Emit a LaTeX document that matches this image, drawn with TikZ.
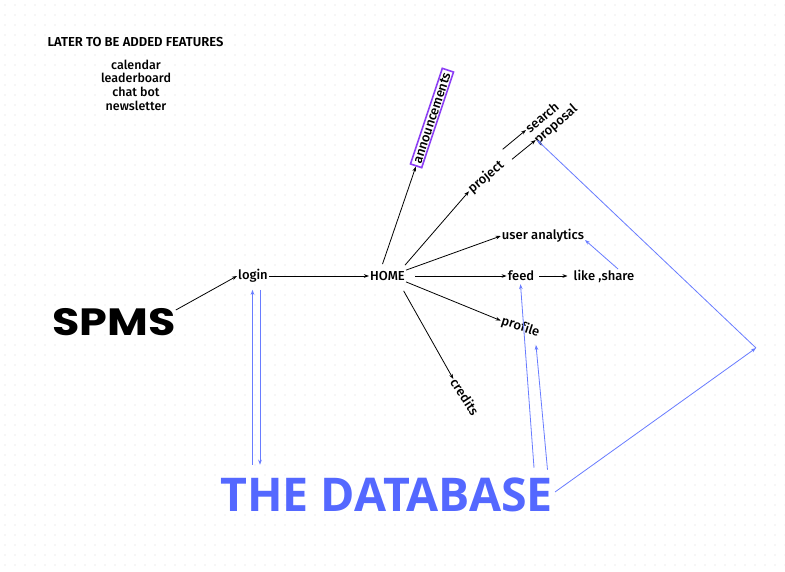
\documentclass[tikz,border=0pt]{standalone}
\usepackage{fontspec}
\setmainfont{Fira Sans}[UprightFont={* Medium}, BoldFont={* SemiBold}, Ligatures=NoCommon]
\newfontfamily\spmsfont{Poppins}
\newfontfamily\dbfont{Open Sans}
\usetikzlibrary{arrows.meta}
\definecolor{dbblue}{RGB}{84,104,255}
\definecolor{lnblue}{RGB}{104,124,255}
\definecolor{annpurple}{RGB}{140,62,245}
\definecolor{griddot}{RGB}{218,218,218}
\begin{document}
\begin{tikzpicture}[x=1pt,y=-1pt,
  lbl/.style={font=\fontsize{13}{15}\selectfont, inner sep=1pt},
  conn/.style={-{Stealth[length=5pt,width=3.6pt]}, line width=0.8pt},
  dbconn/.style={conn, draw=lnblue}]
\fill[white] (0,0) rectangle (785,572);
\useasboundingbox (0,0) rectangle (785,572);
\foreach \x in {5,15,...,785} {
  \foreach \y in {5,15,...,570} {
    \fill[griddot] (\x,\y) circle (0.6);
  }
}
% texts
\node[font=\fontsize{13}{14}\selectfont\bfseries, inner sep=0pt] (later) at (135.5,42) {LATER TO BE ADDED FEATURES};
\node[font=\fontsize{12.5}{13.7}\selectfont, align=center, inner sep=0pt] (features) at (136,85) {calendar\\leaderboard\\chat bot\\newsletter};
\node[font=\fontsize{38}{42}\selectfont\spmsfont\bfseries, inner sep=0pt, xscale=1.17] (spms) at (114,322) {SPMS};
\node[font=\fontsize{46.5}{50}\selectfont\dbfont\bfseries, text=dbblue, inner sep=0pt] (db) at (386.5,495) {THE DATABASE};
\node[lbl] (login) at (253,276) {login};
\node[lbl] (home) at (387.5,276) {HOME};
\node[lbl, rotate=71.6, draw=annpurple, line width=1.6pt, inner xsep=3pt, inner ysep=1.5pt] (ann) at (432,118) {announcements};
\node[lbl, rotate=40] (project) at (486,177) {project};
\node[lbl, rotate=40] (search) at (542,117) {search};
\node[lbl, rotate=41] (proposal) at (556,125) {proposal};
\node[lbl] (ua) at (543,236) {user analytics};
\node[lbl] (feed) at (521,276) {feed};
\node[lbl] (like) at (604,276) {like ,share};
\node[lbl, rotate=-18] (profile) at (520.5,327) {profile};
\node[lbl, rotate=-57] (credits) at (465,397) {credits};
\coordinate (corner) at (756,348);
% black connectors
\draw[conn] ([shift={(0,-12)}]spms.east) -- (login.west);
\draw[conn] (login.east) -- (home.west);
\draw[conn] ([shift={(-5,-6)}]home.north) -- (ann.west);
\draw[conn] ([shift={(-1,-5)}]home.north east) -- (project.west);
\draw[conn] ([shift={(16.7,-27.7)}]project.center) -- ([shift={(-16,13)}]search.center);
\draw[conn] ([shift={(26,-17.7)}]project.center) -- ([shift={(-20.3,15)}]proposal.center);
\draw[conn] (home.north east) -- (ua.west);
\draw[conn, shorten <=9pt] (home.east) -- (feed.west);
\draw[conn, shorten <=4pt, shorten >=5pt] (feed.east) -- (like.west);
\draw[conn] (home.south east) -- (profile.west);
\draw[conn] ([shift={(-2.4,9)}]home.south east) -- (credits.west);
% blue connectors
\draw[dbconn] ([shift={(-0.5,-13)}]login.south |- db.north) -- ([shift={(-0.5,6)}]login.south);
\draw[dbconn] ([shift={(7,6)}]login.south) -- ([shift={(7,-13)}]login.south |- db.north);
\draw[dbconn] ([shift={(13,-10)}]feed.south |- db.north) -- ([shift={(-0.5,2)}]feed.south);
\draw[dbconn] ([shift={(161,-8)}]db.north) -- ([shift={(15.5,18)}]profile.center);
\draw[dbconn] ([shift={(168.5,-3)}]db.center) -- (corner);
\draw[dbconn] (corner) -- ([shift={(-19,15)}]proposal.center);
\draw[dbconn] ([shift={(14,-7)}]like.center) -- ([shift={(42,4)}]ua.center);
\end{tikzpicture}
\end{document}
